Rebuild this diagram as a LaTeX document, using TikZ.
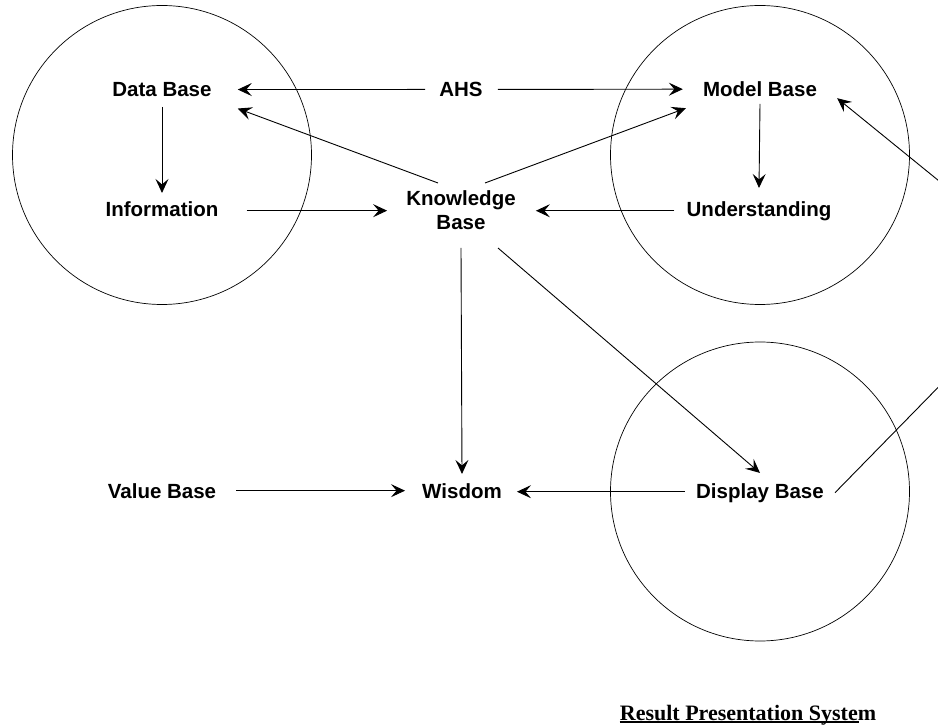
\documentclass[tikz,border=0pt]{standalone}
\usepackage{fontspec}
\setmainfont{Liberation Serif}
\setsansfont{Liberation Sans}
\usetikzlibrary{arrows.meta}

\begin{document}
\begin{tikzpicture}[x=1pt,y=-1pt,
  lbl/.style={font=\sffamily\bfseries\fontsize{20.5}{24.6}\selectfont, inner sep=0, anchor=base},
  arr/.style={-{Stealth[length=14pt,width=13pt,inset=5.5pt]}, line width=0.9pt},
  ring/.style={line width=0.7pt}]
\useasboundingbox (0,0) rectangle (938,727);
\begin{scope}
\clip (0,0) rectangle (938,727);

\draw[ring] (162,155) circle[radius=149.5];
\draw[ring] (760,155) circle[radius=149.5];
\draw[ring] (760,491.5) circle[radius=149.5];

\node[lbl] (db)   at (162,96.5) {Data Base};
\node[lbl] (ahs)  at (461,96.5) {AHS};
\node[lbl] (mb)   at (760,96.5) {Model Base};
\node[lbl] (info) at (162,217)  {Information};
\node[lbl, anchor=center, align=center] (kb) at (461,210) {Knowledge\\Base};
\node[lbl] (und)  at (759,217)  {Understanding};
\node[lbl] (vb)   at (162,498)  {Value Base};
\node[lbl] (wis)  at (462,498)  {Wisdom};
\node[lbl] (dsp)  at (760,498)  {Display Base};
\node[font=\rmfamily\bfseries\fontsize{22}{26}\selectfont, inner sep=0, anchor=base] (title) at (748,720) {Result Presentation System};
\coordinate (turn) at (1051,272);

\draw[arr] ([xshift=-14pt]ahs.west) -- ([xshift=26pt]db.east);
\draw[arr] ([xshift=15pt]ahs.east) -- ([xshift=-20pt]mb.west);
\draw[arr] ([shift={(0,10)}]db.south) -- ([shift={(0,-9)}]info.north);
\draw[arr] ([shift={(0,7)}]mb.south) -- ([shift={(0,-14)}]und.north);
\draw[arr] ([shift={(28,1)}]info.east) -- ([shift={(-19,1)}]info.east -| kb.west);
\draw[arr] ([shift={(-12,-1)}]und.west) -- ([shift={(20,-1)}]und.west -| kb.east);
\draw[arr] ([shift={(-23,-27)}]kb.center) -- ([shift={(26,19)}]db.east);
\draw[arr] ([shift={(24,-27)}]kb.center) -- ([shift={(-17,19)}]mb.west);
\draw[arr] ([shift={(0,38)}]kb.center) -- ([shift={(0,-9)}]wis.north);
\draw[arr] ([shift={(37,38)}]kb.center) -- ([shift={(0,-10)}]dsp.north);
\draw[arr] ([xshift=20pt]vb.east) -- ([xshift=-17pt]vb.east -| wis.west);
\draw[arr] ([shift={(-11,-1)}]dsp.west) -- ([shift={(15,-1)}]dsp.west -| wis.east);
\draw[arr] ([xshift=11pt]dsp.east) -- (turn) -- ([shift={(20,9)}]mb.east);

\draw[line width=1.1pt] ([shift={(0,2)}]title.base west) -- ([shift={(-17,2)}]title.base east);
\end{scope}
\end{tikzpicture}
\end{document}
